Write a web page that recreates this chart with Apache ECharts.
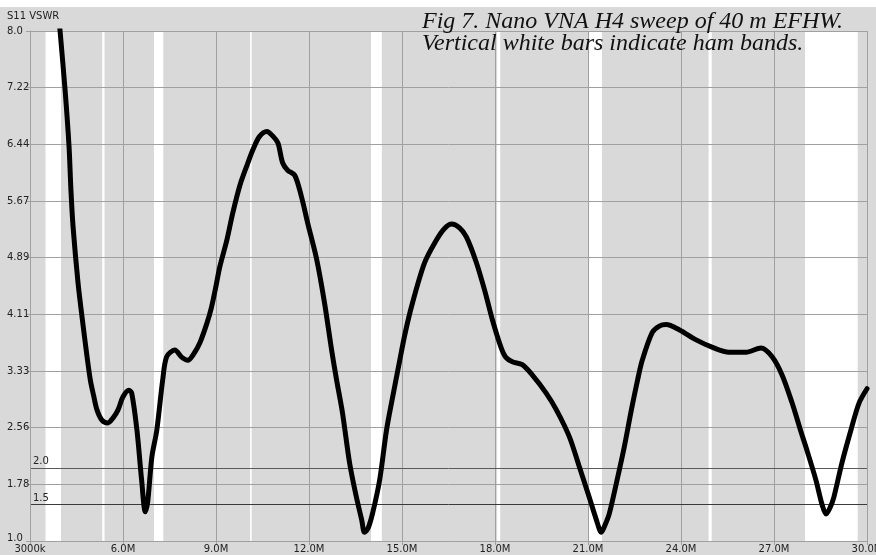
<!DOCTYPE html>
<html>
<head>
<meta charset="utf-8">
<script src="https://cdn.jsdelivr.net/npm/echarts@6/dist/echarts.min.js"></script>
<style>
html,body{margin:0;padding:0;background:#fff;}
#chart{width:876px;height:555px;}
</style>
</head>
<body>
<div id="chart"></div>
<script>
var freqs = [3.85,3.97,4.13,4.26,4.32,4.39,4.55,4.68,4.84,4.95,5.05,5.16,5.32,5.51,5.68,5.84,6.0,6.19,6.28,6.45,6.6,6.72,6.8,6.93,7.09,7.28,7.41,7.67,7.9,8.09,8.3,8.48,8.7,8.85,9.0,9.12,9.35,9.54,9.77,10.02,10.2,10.4,10.64,10.85,11.0,11.15,11.31,11.54,11.76,11.96,12.25,12.5,12.73,12.89,13.08,13.31,13.53,13.7,13.79,13.9,14.05,14.28,14.5,14.7,14.9,15.1,15.34,15.73,16.11,16.35,16.6,16.85,17.08,17.4,17.66,17.92,18.2,18.35,18.56,18.88,19.2,19.65,19.98,20.4,20.72,21.04,21.27,21.43,21.55,21.69,21.94,22.17,22.4,22.6,22.75,23.07,23.3,23.52,23.94,24.49,25.0,25.55,26.1,26.58,26.94,27.26,27.58,27.87,28.03,28.35,28.55,28.68,28.8,28.93,29.19,29.48,29.74,30.0];
var vswr  = [8.6,8.0,7.2,6.41,5.82,5.31,4.54,4.07,3.53,3.20,3.0,2.80,2.66,2.62,2.69,2.80,2.98,3.07,3.03,2.52,1.84,1.40,1.55,2.15,2.52,3.21,3.53,3.62,3.52,3.48,3.58,3.72,3.98,4.20,4.50,4.76,5.13,5.50,5.88,6.18,6.38,6.55,6.62,6.55,6.46,6.19,6.09,6.02,5.72,5.36,4.86,4.27,3.62,3.21,2.76,2.07,1.60,1.29,1.12,1.17,1.38,1.84,2.52,2.98,3.42,3.85,4.27,4.82,5.13,5.28,5.35,5.30,5.17,4.82,4.45,4.03,3.65,3.52,3.46,3.42,3.28,3.03,2.80,2.43,2.02,1.60,1.29,1.12,1.22,1.38,1.84,2.29,2.80,3.21,3.48,3.86,3.95,3.97,3.90,3.76,3.66,3.59,3.59,3.65,3.53,3.28,2.90,2.50,2.29,1.84,1.50,1.37,1.45,1.60,2.07,2.52,2.89,3.09];

// Ham bands (MHz) shown as white bars
var bandStarts = [3.5, 5.33, 7.0, 10.1, 14.0, 18.068, 21.0, 24.89, 28.0];
var bandEnds   = [4.0, 5.405, 7.3, 10.15, 14.35, 18.168, 21.45, 24.99, 29.7];

// Reference lines
var refLevels = [2.0, 1.5];
var refLabels = ['2.0', '1.5'];

// Tick labels
var xTickLabels = ['3000k','6.0M','9.0M','12.0M','15.0M','18.0M','21.0M','24.0M','27.0M','30.0M'];
var yTickLabels = ['1.0','1.78','2.56','3.33','4.11','4.89','5.67','6.44','7.22','8.0'];

var Y_MIN = 1, Y_MAX = 8, Y_STEPS = 9;
function toU(v){ return (v - Y_MIN) * Y_STEPS / (Y_MAX - Y_MIN); }

var curve = freqs.map(function(f,i){ return [f, toU(vswr[i])]; });
var bands = bandStarts.map(function(s,i){ return [{xAxis: s}, {xAxis: bandEnds[i]}]; });
var refs = refLevels.map(function(l,i){
  return {yAxis: toU(l), name: refLabels[i],
    lineStyle: {color: i === 0 ? '#5a5a5a' : '#3a3a3a', width: 1, type: 'solid'}};
});

var chart = echarts.init(document.getElementById('chart'), null, {renderer: 'canvas'});
chart.setOption({
  animation: false,
  backgroundColor: '#d9d9d9',
  title: {
    text: 'Fig 7. Nano VNA H4 sweep of 40 m EFHW.\nVertical white bars indicate ham bands.',
    left: 422, top: 11, padding: 0,
    textStyle: {fontFamily: 'Liberation Serif', fontStyle: 'italic', fontWeight: 'normal',
      fontSize: 24, lineHeight: 22, color: '#111'}
  },
  graphic: [
    {type: 'rect', left: 0, top: 0, shape: {width: 876, height: 7}, style: {fill: '#ffffff'}},
    {type: 'text', left: 7, top: 11, style: {text: 'S11 VSWR', font: '10px "DejaVu Sans"', fill: '#222'}}
  ],
  grid: {left: 30, right: 9, top: 31, bottom: 14, show: false, containLabel: false, outerBoundsMode: 'none'},
  xAxis: {
    type: 'value', min: 3, max: 30, interval: 3, z: 2,
    axisLine: {show: true, lineStyle: {color: '#a0a0a0', width: 1}},
    axisTick: {show: true, length: 4, lineStyle: {color: '#a0a0a0'}},
    splitLine: {show: true, lineStyle: {color: '#a0a0a0', width: 1}},
    axisLabel: {
      margin: 3, color: '#222', fontFamily: 'DejaVu Sans', fontSize: 10,
      formatter: function(v){ return xTickLabels[Math.round((v - 3) / 3)]; }
    }
  },
  yAxis: {
    type: 'value', min: 0, max: Y_STEPS, interval: 1, z: 2,
    axisLine: {show: true, lineStyle: {color: '#a0a0a0', width: 1}},
    axisTick: {show: true, length: 4, lineStyle: {color: '#a0a0a0'}},
    splitLine: {show: true, lineStyle: {color: '#a0a0a0', width: 1}},
    axisLabel: {
      margin: 23, align: 'left', color: '#222', fontFamily: 'DejaVu Sans', fontSize: 10,
      formatter: function(v){
        var i = Math.round(v);
        return i === 0 ? '{lo|' + yTickLabels[i] + '}' : yTickLabels[i];
      },
      rich: {lo: {fontFamily: 'DejaVu Sans', fontSize: 10, color: '#222', padding: [0,0,5,0]}}
    }
  },
  series: [
    {
      name: 'bands', type: 'line', data: [], z: 1, silent: true,
      markArea: {silent: true, itemStyle: {color: '#ffffff'}, data: bands},
      markLine: {
        silent: true, symbol: 'none', z: 2,
        label: {show: true, position: 'insideStartTop', distance: [3, 1], formatter: '{b}',
          color: '#222', fontFamily: 'DejaVu Sans', fontSize: 10},
        data: refs
      }
    },
    {
      name: 'VSWR', type: 'line', data: curve, z: 3, showSymbol: false, smooth: 0.3,
      clip: true,
      lineStyle: {color: '#000', width: 5, join: 'round', cap: 'round'}
    }
  ]
});
</script>
</body>
</html>
